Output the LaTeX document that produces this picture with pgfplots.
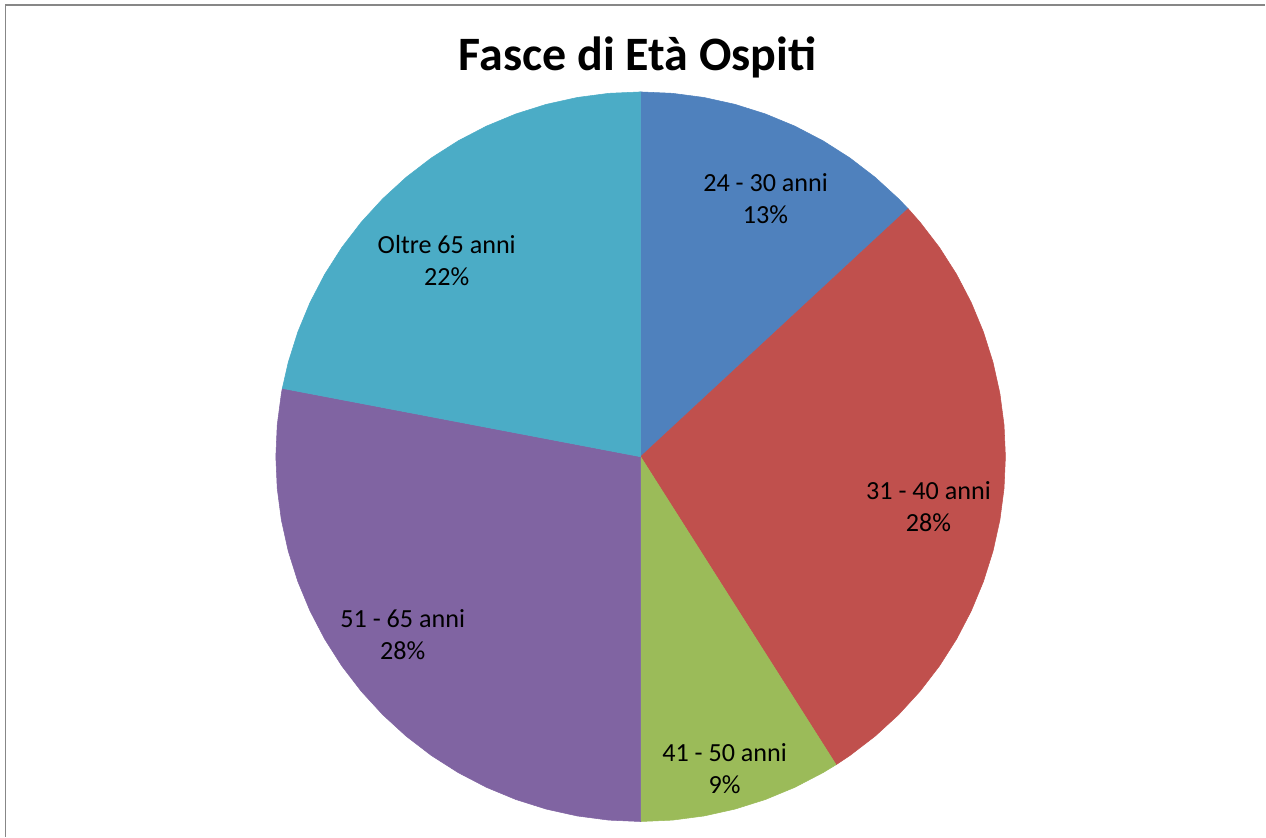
\documentclass[border=0pt]{standalone}
\usepackage{fontspec}
\setmainfont{Carlito}
\usepackage{pgfplots}
\pgfplotsset{compat=1.18}
\usepgfplotslibrary{polar}
\definecolor{cBlue}{HTML}{4F81BD}
\definecolor{cRed}{HTML}{C0504D}
\definecolor{cGreen}{HTML}{9BBB59}
\definecolor{cPurple}{HTML}{8064A2}
\definecolor{cCyan}{HTML}{4BACC6}
\begin{document}
\begin{tikzpicture}
\begin{axis}[
  scale only axis,
  width=949.5pt, height=627.75pt,
  xmin=-641, xmax=625, ymin=-380, ymax=457,
  hide axis, clip=false,
  data cs=polar,
]
\path (rel axis cs:0,0) rectangle (rel axis cs:1,1);
% 24 - 30 anni : 13.1%
\addplot[fill=cBlue, draw=cBlue, line width=0.4pt] coordinates {(0,0) (90,365) (85,365) (80,365) (75,365) (70,365) (65,365) (60,365) (55,365) (50,365) (45,365) (42.84,365)} -- cycle;
% 31 - 40 anni : 27.9%
\addplot[fill=cRed, draw=cRed, line width=0.4pt] coordinates {(0,0) (42.84,365) (40,365) (35,365) (30,365) (25,365) (20,365) (15,365) (10,365) (5,365) (0,365) (-5,365) (-10,365) (-15,365) (-20,365) (-25,365) (-30,365) (-35,365) (-40,365) (-45,365) (-50,365) (-55,365) (-57.6,365)} -- cycle;
% 41 - 50 anni : 9.0%
\addplot[fill=cGreen, draw=cGreen, line width=0.4pt] coordinates {(0,0) (-57.6,365) (-60,365) (-65,365) (-70,365) (-75,365) (-80,365) (-85,365) (-90,365)} -- cycle;
% 51 - 65 anni : 28.0%
\addplot[fill=cPurple, draw=cPurple, line width=0.4pt] coordinates {(0,0) (-90,365) (-95,365) (-100,365) (-105,365) (-110,365) (-115,365) (-120,365) (-125,365) (-130,365) (-135,365) (-140,365) (-145,365) (-150,365) (-155,365) (-160,365) (-165,365) (-170,365) (-175,365) (-180,365) (-185,365) (-190,365) (-190.8,365)} -- cycle;
% Oltre 65 anni : 22.0%
\addplot[fill=cCyan, draw=cCyan, line width=0.4pt] coordinates {(0,0) (-190.8,365) (-195,365) (-200,365) (-205,365) (-210,365) (-215,365) (-220,365) (-225,365) (-230,365) (-235,365) (-240,365) (-245,365) (-250,365) (-255,365) (-260,365) (-265,365) (-270,365)} -- cycle;
% labels
\begin{scope}[every node/.style={align=center, font=\fontsize{19.6}{24}\selectfont, inner sep=0pt}]
\node at (axis cs:125,258.5) {24 - 30 anni\\13\%};
\node at (axis cs:288,-50) {31 - 40 anni\\28\%};
\node at (axis cs:84,-312) {41 - 50 anni\\9\%};
\node at (axis cs:-238,-178) {51 - 65 anni\\28\%};
\node at (axis cs:-194,196) {Oltre 65 anni\\22\%};
\end{scope}
\node[anchor=base, inner sep=0pt, font=\fontsize{36}{40}\selectfont\bfseries] at (axis cs:-3,386) {Fasce di Età Ospiti};
% chart area border
\draw[color=black!47, line width=1.1pt] (axis cs:-635.5,-380) -- (axis cs:-635.5,452) -- (axis cs:625,452);
\end{axis}
\end{tikzpicture}
\end{document}
